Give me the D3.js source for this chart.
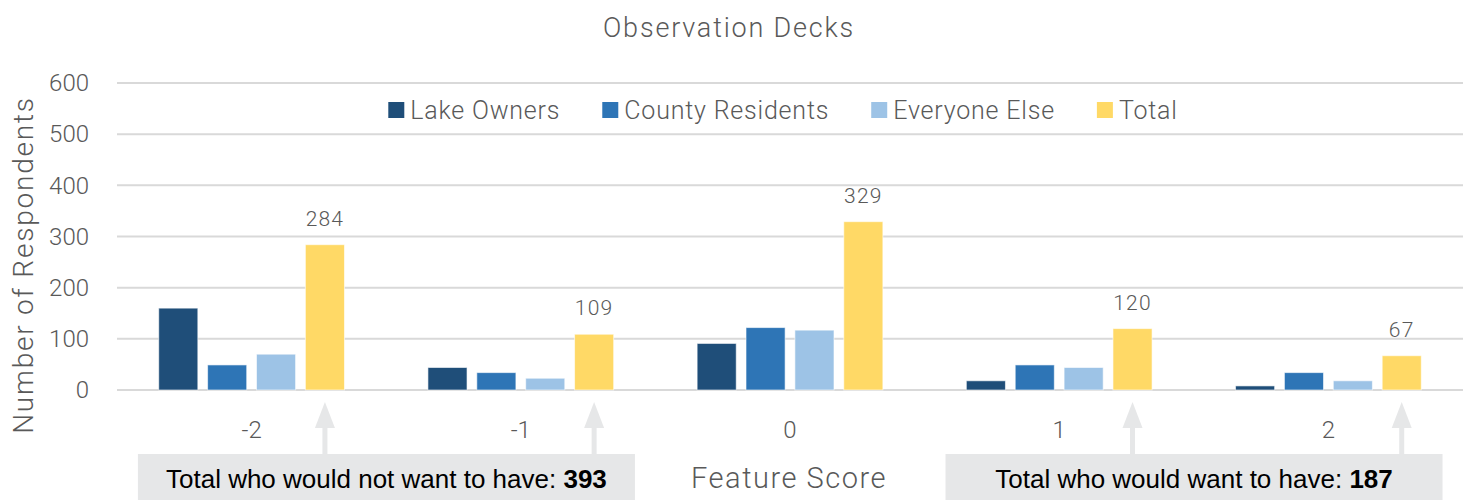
<!DOCTYPE html>
<html>
<head>
<meta charset="utf-8">
<script src="https://cdn.jsdelivr.net/npm/d3@7"></script>
<style>
  body { margin: 0; background: #fff; }
  .din { font-family: Roboto, "DejaVu Sans", sans-serif; fill: #595959; font-weight: 300; }
  .note { font-family: "Liberation Sans", Arial, sans-serif; fill: #000; }
</style>
</head>
<body>
<div class="chart"></div>
<script>
const scores = ["-2", "-1", "0", "1", "2"];
const seriesNames = ["Lake Owners", "County Residents", "Everyone Else", "Total"];
const lakeOwners = [160, 44, 91, 18, 8];
const countyResidents = [49, 34, 122, 49, 34];
const everyoneElse = [70, 23, 117, 44, 18];
const total = [284, 109, 329, 120, 67];
const yTicks = [0, 100, 200, 300, 400, 500, 600];
const notes = [
  {text: "Total who would not want to have: ", value: 393, from: "-2", to: "-1"},
  {text: "Total who would want to have: ", value: 187, from: "1", to: "2"}
];

const colors = ["#1f4e79", "#2e75b6", "#9dc3e6", "#ffd966"];
const seriesValues = [lakeOwners, countyResidents, everyoneElse, total];

const data = scores.map((s, i) => ({
  score: s,
  values: seriesNames.map((n, j) => ({name: n, value: seriesValues[j][i]}))
}));

const width = 1469, height = 500;
const margin = {top: 83, left: 117, right: 6, bottom: 110};

const svg = d3.select('.chart')
  .append('svg')
  .attr('width', width)
  .attr('height', height);

const x0 = d3.scaleBand()
  .domain(scores)
  .range([margin.left, width - margin.right])
  .paddingInner(0.31)
  .paddingOuter(0.155);

const x1 = d3.scaleBand()
  .domain(seriesNames)
  .range([0, x0.bandwidth()])
  .paddingInner(0.2);

const yScale = d3.scaleLinear()
  .domain([0, 600])
  .range([height - margin.bottom, margin.top]);

// gridlines
svg.append("g")
  .selectAll("line")
  .data(yTicks)
  .enter()
  .append("line")
  .attr("x1", margin.left)
  .attr("x2", width - margin.right)
  .attr("y1", d => yScale(d))
  .attr("y2", d => yScale(d))
  .attr("stroke", "#d9d9d9")
  .attr("stroke-width", 2);

// y axis labels
const yAxis = d3.axisLeft(yScale).tickValues(yTicks).tickSize(0).tickPadding(0);
svg.append("g")
  .attr("class", "axis y-axis")
  .attr("transform", "translate(89,0)")
  .call(yAxis)
  .call(g => g.select(".domain").remove())
  .selectAll("text")
  .attr("class", "din")
  .attr("font-size", 24)
  .attr("fill", "#595959")
  .attr("font-family", null);

// x axis labels
const xAxis = d3.axisBottom(x0).tickSize(0).tickPadding(0);
svg.append("g")
  .attr("class", "axis x-axis")
  .attr("transform", "translate(0,421)")
  .call(xAxis)
  .call(g => g.select(".domain").remove())
  .selectAll("text")
  .attr("class", "din")
  .attr("font-size", 24)
  .attr("fill", "#595959")
  .attr("font-family", null);

// bars
const groups = svg.selectAll(".group")
  .data(data)
  .enter()
  .append("g")
  .attr("class", "group")
  .attr("transform", d => "translate(" + x0(d.score) + ",0)");

groups.selectAll("rect")
  .data(d => d.values)
  .enter()
  .append("rect")
  .attr("x", d => x1(d.name))
  .attr("y", d => yScale(d.value))
  .attr("width", x1.bandwidth())
  .attr("height", d => yScale(0) - yScale(d.value))
  .attr("fill", (d, i) => colors[i])
  .attr("stroke", "#ffffff")
  .attr("stroke-opacity", 0.6);

// total labels
groups.append("text")
  .attr("class", "din")
  .attr("x", x1("Total") + x1.bandwidth() / 2)
  .attr("y", d => yScale(d.values[3].value) - 19)
  .attr("text-anchor", "middle")
  .attr("font-size", 21)
  .attr("font-weight", 400)
  .attr("letter-spacing", 1.2)
  .attr("fill", "#404040")
  .text(d => d.values[3].value);

// title
svg.append("text")
  .attr("class", "din")
  .attr("x", 729)
  .attr("y", 37)
  .attr("text-anchor", "middle")
  .attr("font-size", 27)
  .attr("letter-spacing", 1.8)
  .text("Observation Decks");

// y title
svg.append("text")
  .attr("class", "din")
  .attr("transform", "translate(33,265) rotate(-90)")
  .attr("text-anchor", "middle")
  .attr("font-size", 28)
  .attr("letter-spacing", 1.8)
  .text("Number of Respondents");

// legend
const legend = svg.append("g").attr("class", "legend");
let lx = 0;
seriesNames.forEach((n, i) => {
  const item = legend.append("g").attr("transform", "translate(" + lx + ",0)");
  item.append("rect")
    .attr("x", 0).attr("y", 102)
    .attr("width", 16).attr("height", 16)
    .attr("fill", colors[i]);
  const t = item.append("text")
    .attr("class", "din")
    .attr("x", 22)
    .attr("y", 119)
    .attr("font-size", 25)
    .attr("letter-spacing", 0.8)
    .text(n);
  lx += 22 + t.node().getComputedTextLength() + 42;
});
const legendWidth = lx - 42;
legend.attr("transform", "translate(" + (783 - legendWidth / 2) + ",0)");

// annotations: arrows + boxes
notes.forEach(nt => {
  const a = x0(nt.from) + x1("Total") + x1.bandwidth() / 2;
  const b = x0(nt.to) + x1("Total") + x1.bandwidth() / 2;
  [a, b].forEach(cx => {
    svg.append("rect")
      .attr("x", cx - 2.5).attr("y", 425)
      .attr("width", 5).attr("height", 30)
      .attr("fill", "#e6e7e8");
    svg.append("path")
      .attr("d", "M" + cx + ",402 L" + (cx - 10) + ",428 L" + (cx + 10) + ",428 Z")
      .attr("fill", "#e6e7e8");
  });
  const bx = a - 187, bw = 497;
  svg.append("rect")
    .attr("x", bx).attr("y", 454)
    .attr("width", bw).attr("height", 46)
    .attr("fill", "#e6e7e8");
  const t = svg.append("text")
    .attr("class", "note")
    .attr("x", bx + bw / 2)
    .attr("y", 488)
    .attr("text-anchor", "middle")
    .attr("font-size", 26);
  t.append("tspan").text(nt.text);
  t.append("tspan").attr("font-weight", "bold").text(nt.value);
});

// x title
svg.append("text")
  .attr("class", "din")
  .attr("x", 789)
  .attr("y", 488)
  .attr("text-anchor", "middle")
  .attr("font-size", 29)
  .attr("letter-spacing", 1.5)
  .text("Feature Score");
</script>
</body>
</html>
